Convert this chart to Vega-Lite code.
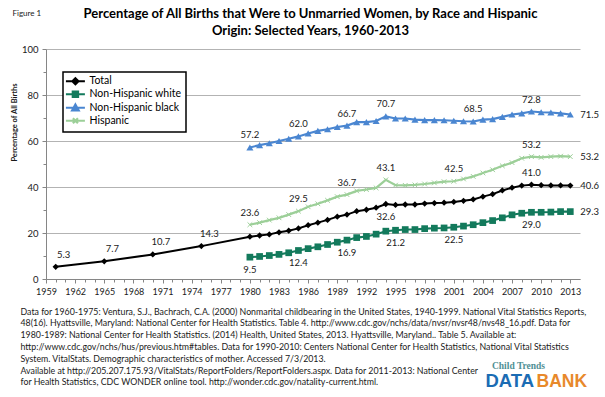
{
  "$schema": "https://vega.github.io/schema/vega-lite/v6.json",
  "width": 534,
  "height": 230,
  "autosize": "none",
  "padding": {"left": 46, "top": 49, "right": 25, "bottom": 118},
  "background": "white",
  "config": {
    "view": {"stroke": null},
    "font": "Lato"
  },
  "data": {"values": [
    {"series": "Total", "year": 1960, "value": 5.3},
    {"series": "Total", "year": 1965, "value": 7.7},
    {"series": "Total", "year": 1970, "value": 10.7},
    {"series": "Total", "year": 1975, "value": 14.3},
    {"series": "Total", "year": 1980, "value": 18.4},
    {"series": "Total", "year": 1981, "value": 18.9},
    {"series": "Total", "year": 1982, "value": 19.4},
    {"series": "Total", "year": 1983, "value": 20.3},
    {"series": "Total", "year": 1984, "value": 21.0},
    {"series": "Total", "year": 1985, "value": 22.0},
    {"series": "Total", "year": 1986, "value": 23.4},
    {"series": "Total", "year": 1987, "value": 24.5},
    {"series": "Total", "year": 1988, "value": 25.7},
    {"series": "Total", "year": 1989, "value": 27.1},
    {"series": "Total", "year": 1990, "value": 28.0},
    {"series": "Total", "year": 1991, "value": 29.5},
    {"series": "Total", "year": 1992, "value": 30.1},
    {"series": "Total", "year": 1993, "value": 31.0},
    {"series": "Total", "year": 1994, "value": 32.6},
    {"series": "Total", "year": 1995, "value": 32.2},
    {"series": "Total", "year": 1996, "value": 32.4},
    {"series": "Total", "year": 1997, "value": 32.4},
    {"series": "Total", "year": 1998, "value": 32.8},
    {"series": "Total", "year": 1999, "value": 33.0},
    {"series": "Total", "year": 2000, "value": 33.2},
    {"series": "Total", "year": 2001, "value": 33.5},
    {"series": "Total", "year": 2002, "value": 34.0},
    {"series": "Total", "year": 2003, "value": 34.6},
    {"series": "Total", "year": 2004, "value": 35.8},
    {"series": "Total", "year": 2005, "value": 36.9},
    {"series": "Total", "year": 2006, "value": 38.5},
    {"series": "Total", "year": 2007, "value": 39.7},
    {"series": "Total", "year": 2008, "value": 40.6},
    {"series": "Total", "year": 2009, "value": 41.0},
    {"series": "Total", "year": 2010, "value": 40.8},
    {"series": "Total", "year": 2011, "value": 40.7},
    {"series": "Total", "year": 2012, "value": 40.7},
    {"series": "Total", "year": 2013, "value": 40.6},
    {"series": "Non-Hispanic white", "year": 1980, "value": 9.5},
    {"series": "Non-Hispanic white", "year": 1981, "value": 9.8},
    {"series": "Non-Hispanic white", "year": 1982, "value": 10.2},
    {"series": "Non-Hispanic white", "year": 1983, "value": 10.7},
    {"series": "Non-Hispanic white", "year": 1984, "value": 11.4},
    {"series": "Non-Hispanic white", "year": 1985, "value": 12.4},
    {"series": "Non-Hispanic white", "year": 1986, "value": 13.2},
    {"series": "Non-Hispanic white", "year": 1987, "value": 14.0},
    {"series": "Non-Hispanic white", "year": 1988, "value": 15.0},
    {"series": "Non-Hispanic white", "year": 1989, "value": 16.0},
    {"series": "Non-Hispanic white", "year": 1990, "value": 16.9},
    {"series": "Non-Hispanic white", "year": 1991, "value": 18.0},
    {"series": "Non-Hispanic white", "year": 1992, "value": 18.5},
    {"series": "Non-Hispanic white", "year": 1993, "value": 19.5},
    {"series": "Non-Hispanic white", "year": 1994, "value": 20.8},
    {"series": "Non-Hispanic white", "year": 1995, "value": 21.2},
    {"series": "Non-Hispanic white", "year": 1996, "value": 21.5},
    {"series": "Non-Hispanic white", "year": 1997, "value": 21.5},
    {"series": "Non-Hispanic white", "year": 1998, "value": 21.9},
    {"series": "Non-Hispanic white", "year": 1999, "value": 22.1},
    {"series": "Non-Hispanic white", "year": 2000, "value": 22.2},
    {"series": "Non-Hispanic white", "year": 2001, "value": 22.5},
    {"series": "Non-Hispanic white", "year": 2002, "value": 23.0},
    {"series": "Non-Hispanic white", "year": 2003, "value": 23.6},
    {"series": "Non-Hispanic white", "year": 2004, "value": 24.5},
    {"series": "Non-Hispanic white", "year": 2005, "value": 25.4},
    {"series": "Non-Hispanic white", "year": 2006, "value": 26.6},
    {"series": "Non-Hispanic white", "year": 2007, "value": 27.9},
    {"series": "Non-Hispanic white", "year": 2008, "value": 28.6},
    {"series": "Non-Hispanic white", "year": 2009, "value": 29.0},
    {"series": "Non-Hispanic white", "year": 2010, "value": 29.0},
    {"series": "Non-Hispanic white", "year": 2011, "value": 29.1},
    {"series": "Non-Hispanic white", "year": 2012, "value": 29.3},
    {"series": "Non-Hispanic white", "year": 2013, "value": 29.3},
    {"series": "Non-Hispanic black", "year": 1980, "value": 57.2},
    {"series": "Non-Hispanic black", "year": 1981, "value": 58.2},
    {"series": "Non-Hispanic black", "year": 1982, "value": 59.0},
    {"series": "Non-Hispanic black", "year": 1983, "value": 60.0},
    {"series": "Non-Hispanic black", "year": 1984, "value": 61.0},
    {"series": "Non-Hispanic black", "year": 1985, "value": 62.0},
    {"series": "Non-Hispanic black", "year": 1986, "value": 63.3},
    {"series": "Non-Hispanic black", "year": 1987, "value": 64.4},
    {"series": "Non-Hispanic black", "year": 1988, "value": 65.1},
    {"series": "Non-Hispanic black", "year": 1989, "value": 66.1},
    {"series": "Non-Hispanic black", "year": 1990, "value": 66.7},
    {"series": "Non-Hispanic black", "year": 1991, "value": 68.2},
    {"series": "Non-Hispanic black", "year": 1992, "value": 68.2},
    {"series": "Non-Hispanic black", "year": 1993, "value": 68.7},
    {"series": "Non-Hispanic black", "year": 1994, "value": 70.7},
    {"series": "Non-Hispanic black", "year": 1995, "value": 69.8},
    {"series": "Non-Hispanic black", "year": 1996, "value": 69.8},
    {"series": "Non-Hispanic black", "year": 1997, "value": 69.3},
    {"series": "Non-Hispanic black", "year": 1998, "value": 69.1},
    {"series": "Non-Hispanic black", "year": 1999, "value": 69.1},
    {"series": "Non-Hispanic black", "year": 2000, "value": 69.0},
    {"series": "Non-Hispanic black", "year": 2001, "value": 68.8},
    {"series": "Non-Hispanic black", "year": 2002, "value": 68.6},
    {"series": "Non-Hispanic black", "year": 2003, "value": 68.5},
    {"series": "Non-Hispanic black", "year": 2004, "value": 69.3},
    {"series": "Non-Hispanic black", "year": 2005, "value": 69.5},
    {"series": "Non-Hispanic black", "year": 2006, "value": 70.5},
    {"series": "Non-Hispanic black", "year": 2007, "value": 71.5},
    {"series": "Non-Hispanic black", "year": 2008, "value": 72.0},
    {"series": "Non-Hispanic black", "year": 2009, "value": 72.8},
    {"series": "Non-Hispanic black", "year": 2010, "value": 72.5},
    {"series": "Non-Hispanic black", "year": 2011, "value": 72.4},
    {"series": "Non-Hispanic black", "year": 2012, "value": 72.0},
    {"series": "Non-Hispanic black", "year": 2013, "value": 71.5},
    {"series": "Hispanic", "year": 1980, "value": 23.6},
    {"series": "Hispanic", "year": 1981, "value": 24.5},
    {"series": "Hispanic", "year": 1982, "value": 25.6},
    {"series": "Hispanic", "year": 1983, "value": 26.6},
    {"series": "Hispanic", "year": 1984, "value": 28.0},
    {"series": "Hispanic", "year": 1985, "value": 29.5},
    {"series": "Hispanic", "year": 1986, "value": 31.4},
    {"series": "Hispanic", "year": 1987, "value": 32.7},
    {"series": "Hispanic", "year": 1988, "value": 34.2},
    {"series": "Hispanic", "year": 1989, "value": 35.8},
    {"series": "Hispanic", "year": 1990, "value": 36.7},
    {"series": "Hispanic", "year": 1991, "value": 38.3},
    {"series": "Hispanic", "year": 1992, "value": 38.9},
    {"series": "Hispanic", "year": 1993, "value": 39.6},
    {"series": "Hispanic", "year": 1994, "value": 43.1},
    {"series": "Hispanic", "year": 1995, "value": 40.8},
    {"series": "Hispanic", "year": 1996, "value": 40.7},
    {"series": "Hispanic", "year": 1997, "value": 40.9},
    {"series": "Hispanic", "year": 1998, "value": 41.3},
    {"series": "Hispanic", "year": 1999, "value": 41.8},
    {"series": "Hispanic", "year": 2000, "value": 42.3},
    {"series": "Hispanic", "year": 2001, "value": 42.5},
    {"series": "Hispanic", "year": 2002, "value": 43.5},
    {"series": "Hispanic", "year": 2003, "value": 44.6},
    {"series": "Hispanic", "year": 2004, "value": 46.1},
    {"series": "Hispanic", "year": 2005, "value": 47.5},
    {"series": "Hispanic", "year": 2006, "value": 49.2},
    {"series": "Hispanic", "year": 2007, "value": 50.6},
    {"series": "Hispanic", "year": 2008, "value": 52.5},
    {"series": "Hispanic", "year": 2009, "value": 53.2},
    {"series": "Hispanic", "year": 2010, "value": 52.9},
    {"series": "Hispanic", "year": 2011, "value": 53.2},
    {"series": "Hispanic", "year": 2012, "value": 53.4},
    {"series": "Hispanic", "year": 2013, "value": 53.2}
  ]},
  "resolve": {"axis": {"x": "independent", "y": "independent"}},
  "layer": [
    {
      "mark": {"type": "line"},
      "encoding": {
        "x": {"field": "year", "type": "quantitative",
          "scale": {"domain": [1959, 2014], "nice": false, "zero": false},
          "axis": {"orient": "bottom", "values": [1959,1962,1965,1968,1971,1974,1977,1980,1983,1986,1989,1992,1995,1998,2001,2004,2007,2010,2013],
            "format": "d", "labelFontSize": 9, "labelColor": "#1a1a1a", "labelPadding": 4, "labelFlush": false, "labelOverlap": false,
            "tickSize": 4, "tickColor": "#868686", "domainColor": "#868686", "grid": false,
            "title": [
              "Data for 1960-1975:  Ventura, S.J., Bachrach, C.A. (2000)  Nonmarital childbearing in the United States, 1940-1999.  National Vital Statistics Reports,",
              "48(16). Hyattsville, Maryland: National Center for Health Statistics. Table 4. http://www.cdc.gov/nchs/data/nvsr/nvsr48/nvs48_16.pdf. Data for",
              "1980-1989:  National Center for Health Statistics. (2014) Health, United States, 2013. Hyattsville, Maryland.. Table 5. Available at:",
              "http://www.cdc.gov/nchs/hus/previous.htm#tables. Data for 1990-2010:  Centers National Center for Health Statistics, National Vital Statistics",
              "System.  VitalStats. Demographic characteristics of mother.  Accessed 7/3/2013.",
              "Available at http://205.207.175.93/VitalStats/ReportFolders/ReportFolders.aspx. Data for 2011-2013: National Center",
              "for Health Statistics, CDC WONDER online tool. http://wonder.cdc.gov/natality-current.html."
            ],
            "titleX": -26, "titleY": 28, "titleAlign": "left", "titleAnchor": "start", "titleBaseline": "top",
            "titleFontSize": 8.8, "titleFontWeight": "normal", "titleLineHeight": 11.8, "titleColor": "#1a1a1a"}},
        "y": {"field": "value", "type": "quantitative",
          "scale": {"domain": [0, 100], "nice": false},
          "axis": {"orient": "left", "values": [0, 20, 40, 60, 80, 100], "grid": true, "gridColor": "#b3b3b3",
            "labelFontSize": 9.5, "labelColor": "#1a1a1a", "labelPadding": 4, "tickSize": 4, "tickColor": "#868686", "domainColor": "#868686",
            "title": "Percentage of All Births", "titleFontSize": 7.5, "titleFontWeight": "bold", "titleColor": "#1a1a1a",
            "titleAngle": 270, "titleX": -32, "titleY": 73, "titleAlign": "center", "titleBaseline": "middle"}},
        "color": {"field": "series", "type": "nominal",
          "scale": {"domain": ["Total", "Non-Hispanic white", "Non-Hispanic black", "Hispanic"], "range": ["#000000", "#137a5c", "#4a86d1", "#9ccf98"]},
          "legend": {"orient": "none", "legendX": 17, "legendY": 23, "title": null,
            "strokeColor": "#000000", "fillColor": "#ffffff", "padding": 4, "labelFontSize": 10.5, "labelColor": "#000000",
            "symbolSize": 40, "labelOffset": 12, "rowPadding": -2.5,
            "encode": {
              "legend": {"update": {"strokeWidth": {"value": 1.5}}},
              "symbols": {"update": {
                "shape": {"signal": "datum.value === 'Total' ? 'M-2,0L4,0M1,-1L2,0L1,1L0,0Z' : datum.value === 'Non-Hispanic white' ? 'M-2,0L4,0M0.15,-0.85L1.85,-0.85L1.85,0.85L0.15,0.85Z' : datum.value === 'Non-Hispanic black' ? 'M-2,0L4,0M1,-1.05L2.05,0.85L-0.05,0.85Z' : 'M-2,0L4,0M0.2,-0.8L1.8,0.8M1.8,-0.8L0.2,0.8'"},
                "fill": {"signal": "scale('color', datum.value)"},
                "fillOpacity": {"value": 1},
                "stroke": {"signal": "scale('color', datum.value)"},
                "strokeWidth": {"value": 2},
                "opacity": {"value": 1}
              }}
            }}},
        "strokeWidth": {"field": "series", "type": "nominal",
          "scale": {"domain": ["Total", "Non-Hispanic white", "Non-Hispanic black", "Hispanic"], "range": [2, 2.2, 2.2, 1.5]},
          "legend": null}
      }
    },
    {
      "transform": [{"filter": "datum.series === 'Total'"}],
      "mark": {"type": "point", "filled": true, "opacity": 1, "shape": "diamond", "size": 40, "color": "#000000"},
      "encoding": {
        "x": {"field": "year", "type": "quantitative",
          "axis": {"orient": "bottom", "values": [1959,1960,1961,1962,1963,1964,1965,1966,1967,1968,1969,1970,1971,1972,1973,1974,1975,1976,1977,1978,1979,1980,1981,1982,1983,1984,1985,1986,1987,1988,1989,1990,1991,1992,1993,1994,1995,1996,1997,1998,1999,2000,2001,2002,2003,2004,2005,2006,2007,2008,2009,2010,2011,2012,2013],
            "labels": false, "domain": false, "grid": false, "tickSize": 3, "tickColor": "#868686",
            "title": "Child Trends", "titleX": 472, "titleY": 86, "titleAlign": "center", "titleBaseline": "middle",
            "titleFont": "Liberation Serif", "titleFontSize": 9.5, "titleFontWeight": "bold", "titleColor": "#4f8f94"}},
        "y": {"field": "value", "type": "quantitative",
          "axis": {"orient": "left", "values": [10, 30, 50, 70, 90], "labels": false, "domain": false, "grid": false, "tickSize": 3, "tickColor": "#868686",
            "title": "Figure 1", "titleAngle": 0, "titleX": -34, "titleY": -36, "titleAlign": "left", "titleBaseline": "middle",
            "titleFontSize": 8, "titleFontWeight": "normal", "titleColor": "#1a1a1a"}}
      }
    },
    {
      "transform": [{"filter": "datum.series === 'Non-Hispanic white'"}],
      "mark": {"type": "point", "filled": true, "opacity": 1, "shape": "square", "size": 45, "color": "#137a5c"},
      "encoding": {
        "x": {"field": "year", "type": "quantitative", "axis": null},
        "y": {"field": "value", "type": "quantitative", "axis": null}
      }
    },
    {
      "transform": [{"filter": "datum.series === 'Non-Hispanic black'"}],
      "mark": {"type": "point", "filled": true, "opacity": 1, "shape": "triangle-up", "size": 50, "color": "#4a86d1"},
      "encoding": {
        "x": {"field": "year", "type": "quantitative", "axis": null},
        "y": {"field": "value", "type": "quantitative", "axis": null}
      }
    },
    {
      "transform": [{"filter": "datum.series === 'Hispanic'"}],
      "mark": {"type": "point", "filled": false, "opacity": 1, "shape": "M-1,-1L1,1M1,-1L-1,1", "size": 22, "color": "#9ccf98", "strokeWidth": 1},
      "encoding": {
        "x": {"field": "year", "type": "quantitative", "axis": null},
        "y": {"field": "value", "type": "quantitative", "axis": null}
      }
    },
    {
      "transform": [{"filter": "(datum.series === 'Total' && datum.year === 2009) || (datum.series === 'Non-Hispanic black' && indexof([1980,1985,1990,1994,2003,2009], datum.year) >= 0) || (datum.series === 'Hispanic' && indexof([1980,1985,1990,1994,2001,2009], datum.year) >= 0)"}],
      "mark": {"type": "text", "dy": -12, "fontSize": 9.5, "color": "#1a1a1a"},
      "encoding": {
        "x": {"field": "year", "type": "quantitative",
          "axis": {"orient": "bottom", "labels": false, "ticks": false, "domain": false, "grid": false,
            "title": "DATA", "titleX": 439, "titleY": 107, "titleAlign": "left", "titleBaseline": "alphabetic",
            "titleFont": "Liberation Sans", "titleFontSize": 18.5, "titleFontWeight": "bold", "titleColor": "#1b6cb4"}},
        "y": {"field": "value", "type": "quantitative", "axis": null},
        "text": {"field": "value", "type": "quantitative", "format": ".1f"}
      }
    },
    {
      "transform": [{"filter": "datum.series === 'Total' && datum.year <= 1975"}],
      "mark": {"type": "text", "dy": -12, "dx": 8, "fontSize": 9.5, "color": "#1a1a1a"},
      "encoding": {
        "x": {"field": "year", "type": "quantitative",
          "axis": {"orient": "bottom", "labels": false, "ticks": false, "domain": false, "grid": false,
            "title": "BANK", "titleX": 490, "titleY": 107, "titleAlign": "left", "titleBaseline": "alphabetic",
            "titleFont": "Liberation Sans", "titleFontSize": 17.5, "titleFontWeight": "bold", "titleColor": "#e8892b"}},
        "y": {"field": "value", "type": "quantitative", "axis": null},
        "text": {"field": "value", "type": "quantitative", "format": ".1f"}
      }
    },
    {
      "transform": [{"filter": "(datum.series === 'Total' && datum.year === 1994) || (datum.series === 'Non-Hispanic white' && indexof([1980,1985,1990,1995,2001,2009], datum.year) >= 0)"}],
      "mark": {"type": "text", "dy": 13, "fontSize": 9.5, "color": "#1a1a1a"},
      "encoding": {
        "x": {"field": "year", "type": "quantitative",
          "axis": {"orient": "top", "labels": false, "ticks": false, "domain": false, "grid": false,
            "title": ["Percentage of All Births that Were to Unmarried Women, by Race and Hispanic", "Origin: Selected Years, 1960-2013"],
            "titleX": 264, "titleY": -42, "titleAlign": "center", "titleBaseline": "top",
            "titleFontSize": 13, "titleFontWeight": "bold", "titleLineHeight": 17, "titleColor": "#000000"}},
        "y": {"field": "value", "type": "quantitative", "axis": null},
        "text": {"field": "value", "type": "quantitative", "format": ".1f"}
      }
    },
    {
      "transform": [{"filter": "datum.year === 2013"}],
      "mark": {"type": "text", "dx": 10, "align": "left", "fontSize": 9.5, "color": "#1a1a1a"},
      "encoding": {
        "x": {"field": "year", "type": "quantitative", "axis": null},
        "y": {"field": "value", "type": "quantitative", "axis": null},
        "text": {"field": "value", "type": "quantitative", "format": ".1f"}
      }
    }
  ]
}
